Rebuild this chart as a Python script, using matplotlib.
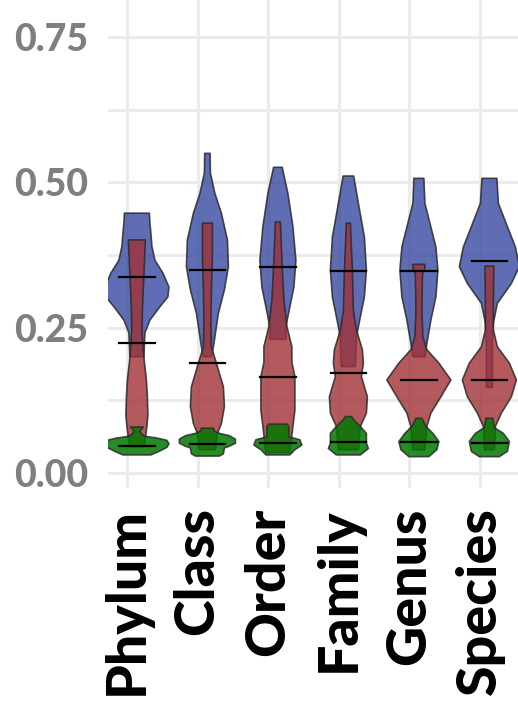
import matplotlib
matplotlib.use("Agg")
import matplotlib.pyplot as plt

# taxonomic levels on the x axis
levels = ["Phylum", "Class", "Order", "Family", "Genus", "Species"]

# violin outlines: y values and half-widths (pixels)
blue_y = [
    [0.200, 0.241, 0.263, 0.286, 0.303, 0.320, 0.344, 0.366, 0.390, 0.412, 0.430, 0.447],
    [0.200, 0.217, 0.240, 0.275, 0.315, 0.355, 0.401, 0.447, 0.481, 0.516, 0.550],
    [0.230, 0.252, 0.286, 0.320, 0.366, 0.424, 0.481, 0.526],
    [0.183, 0.234, 0.269, 0.303, 0.349, 0.406, 0.464, 0.511],
    [0.200, 0.223, 0.263, 0.303, 0.349, 0.389, 0.430, 0.464, 0.507],
    [0.147, 0.223, 0.258, 0.292, 0.326, 0.355, 0.389, 0.424, 0.464, 0.507],
]
blue_w = [
    [7, 8, 13, 23, 31, 32, 26, 18, 15, 14, 13, 12.5],
    [4, 6, 8, 11, 17, 21, 20, 14, 7.5, 3, 2.7],
    [8, 8, 12, 16, 18, 15, 10, 4.3],
    [7, 8, 12, 16, 18, 16, 10, 5.3],
    [6, 8, 12, 17, 19, 17, 11, 6, 5],
    [3, 3, 4, 8, 22, 30, 26, 18, 9, 7.5],
]

red_y = [
    [0.045, 0.060, 0.080, 0.100, 0.130, 0.160, 0.190, 0.220, 0.245, 0.280, 0.320, 0.360, 0.401],
    [0.040, 0.068, 0.085, 0.114, 0.148, 0.183, 0.217, 0.258, 0.315, 0.373, 0.430],
    [0.035, 0.080, 0.108, 0.166, 0.190, 0.217, 0.252, 0.298, 0.366, 0.432],
    [0.040, 0.080, 0.103, 0.131, 0.166, 0.189, 0.212, 0.246, 0.280, 0.349, 0.430],
    [0.040, 0.080, 0.103, 0.131, 0.160, 0.189, 0.212, 0.234, 0.280, 0.338, 0.345, 0.352, 0.359],
    [0.040, 0.080, 0.103, 0.131, 0.160, 0.189, 0.217, 0.246, 0.292, 0.356],
]
red_w = [
    [7, 8.5, 10, 11, 10.5, 9.5, 7.5, 6, 5.2, 5.5, 6.5, 7.5, 8.5],
    [8, 10, 14, 17, 16, 10, 4, 3.5, 4, 5, 5],
    [12, 15, 17, 17, 14, 14, 9, 6, 4, 2.5],
    [10, 12, 18, 19, 13, 15, 14, 8, 5, 4, 2],
    [6, 8, 12, 22, 32, 20, 8, 4, 3, 3.5, 4, 6, 6],
    [5, 6, 12, 22, 27, 20, 8, 4, 4, 4.5],
]

green_y = [
    [0.031, 0.037, 0.044, 0.050, 0.056, 0.060, 0.063, 0.068, 0.072, 0.076, 0.079],
    [0.029, 0.033, 0.043, 0.046, 0.051, 0.058, 0.064, 0.068, 0.072, 0.077],
    [0.031, 0.040, 0.048, 0.057, 0.062, 0.068, 0.080, 0.084],
    [0.031, 0.042, 0.051, 0.068, 0.080, 0.090, 0.097],
    [0.028, 0.040, 0.054, 0.068, 0.080, 0.094],
    [0.028, 0.037, 0.054, 0.068, 0.078, 0.094],
]
green_w = [
    [14, 22, 30, 32, 30, 20, 8, 4, 3, 5, 6.5],
    [12, 16, 17, 22, 28, 28, 22, 12, 7, 6],
    [12, 17, 24, 22, 11, 11, 11, 9],
    [12, 20, 18, 18, 12, 6, 3],
    [10, 18, 20, 14, 7, 3],
    [10, 18, 20, 14, 5, 3.5],
]

# medians (black bars)
blue_med = [0.337, 0.349, 0.354, 0.348, 0.348, 0.364]
red_med = [0.223, 0.189, 0.165, 0.172, 0.160, 0.160]
green_med = [0.047, 0.049, 0.052, 0.054, 0.054, 0.051]

px_per_cat = 70.5
offset = 0.14

fig = plt.figure(figsize=(5.18, 7.11), dpi=100)
ax = fig.add_axes([108 / 518, 1 - 488 / 711, 1 - 108 / 518, 488 / 711])

series = [
    (blue_y, blue_w, "#374AA1", 0.8),
    (red_y, red_w, "#A13137", 0.8),
    (green_y, green_w, "#007800", 0.85),
]

for ys, ws, col, a in series:
    for i in range(len(levels)):
        pos = i + offset
        half = [w / px_per_cat for w in ws[i]]
        ax.fill_betweenx(ys[i], [pos - h for h in half], [pos + h for h in half],
                         facecolor=col, alpha=a, edgecolor="none", zorder=2)
        ax.fill_betweenx(ys[i], [pos - h for h in half], [pos + h for h in half],
                         facecolor="none", edgecolor="#2B2B2B", linewidth=1.2, alpha=0.85, zorder=2)

for meds in [blue_med, red_med, green_med]:
    for i, m in enumerate(meds):
        pos = i + offset
        ax.plot([pos - 0.25, pos + 0.25], [m, m], color="black", linewidth=1.6, zorder=3)

ax.set_xlim(-0.27, 5.546)
ax.set_ylim(-0.026, 0.814)
ax.set_xticks(range(len(levels)))
ax.set_xticklabels(levels)
ax.set_yticks([0.0, 0.25, 0.5, 0.75])
ax.set_yticklabels(["0.00", "0.25", "0.50", "0.75"])
ax.set_yticks([0.125, 0.375, 0.625], minor=True)

ax.grid(True, which="both", color="#EBEBEB", linewidth=2.2, zorder=0)
ax.set_axisbelow(True)
for s in ax.spines.values():
    s.set_visible(False)
ax.tick_params(axis="both", which="both", length=0)
ax.tick_params(axis="y", pad=14)
ax.tick_params(axis="x", pad=14)

for lab in ax.get_yticklabels():
    lab.set_fontfamily("Lato")
    lab.set_fontweight("black")
    lab.set_fontsize(27)
    lab.set_color("#7F7F7F")
for lab in ax.get_xticklabels():
    lab.set_fontfamily("Lato")
    lab.set_fontweight("black")
    lab.set_fontsize(40)
    lab.set_color("black")
    lab.set_rotation(90)
    lab.set_va("top")
    lab.set_ha("center")

fig.savefig("out.png", dpi=100)
